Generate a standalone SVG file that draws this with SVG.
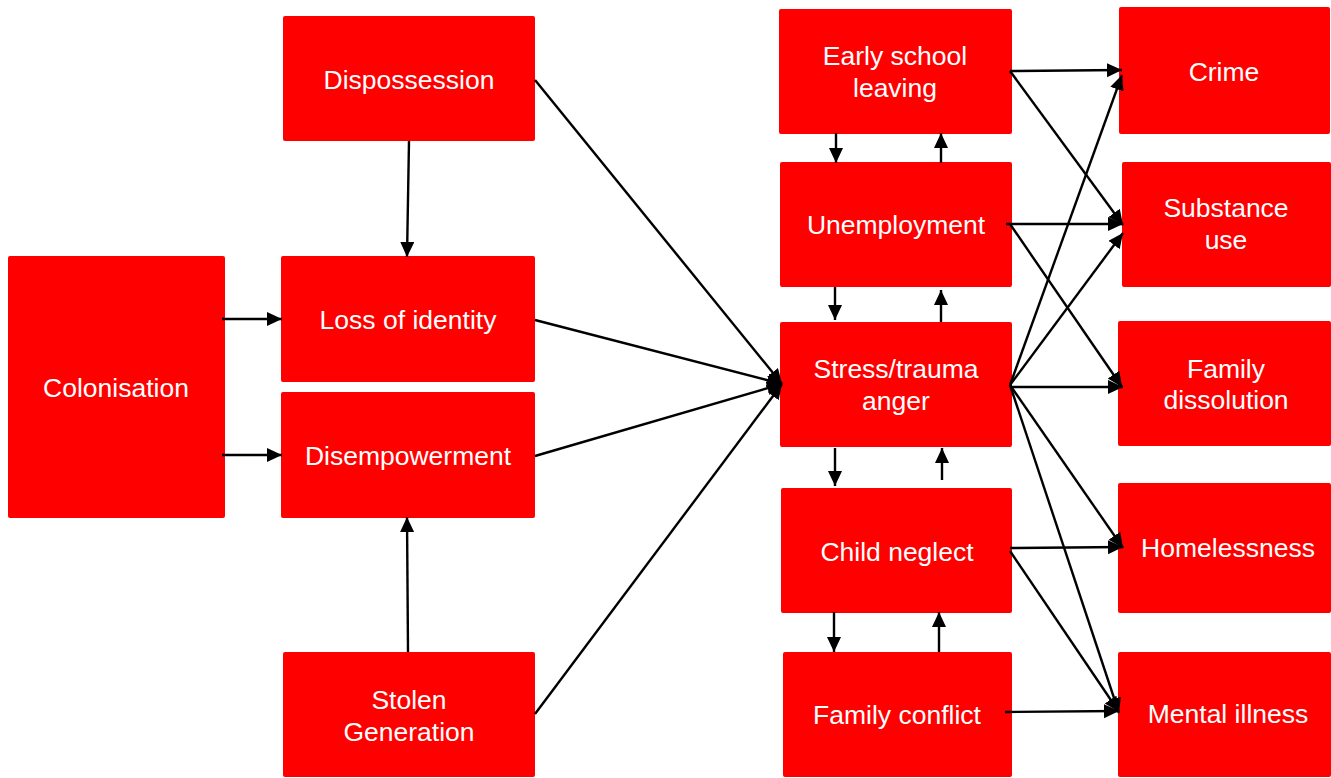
<svg xmlns="http://www.w3.org/2000/svg" width="1331" height="778" viewBox="0 0 1331 778">
<style>
.box{fill:#ff0000}
.lbl{fill:#ffffff;font-family:"Liberation Sans",Arial,sans-serif;font-size:26.5px;text-anchor:middle}
.edge{stroke:#000;stroke-width:2.4;fill:none;marker-end:url(#ah)}
</style>
<defs>
<marker id="ah" markerUnits="userSpaceOnUse" markerWidth="16" markerHeight="15" refX="15" refY="7" orient="auto">
<path d="M0,0 L15,7 L0,14 z" fill="#000"/>
</marker>
</defs>
<rect width="1331" height="778" fill="#fff"/>
<g id="colonisation"><rect class="box" x="8" y="256" width="217" height="262" rx="2"/><text class="lbl" x="116" y="397">Colonisation</text></g>
<g id="dispossession"><rect class="box" x="283" y="16" width="252" height="125" rx="2"/><text class="lbl" x="409" y="89">Dispossession</text></g>
<g id="loss-of-identity"><rect class="box" x="281" y="256" width="254" height="126" rx="2"/><text class="lbl" x="408" y="329">Loss of identity</text></g>
<g id="disempowerment"><rect class="box" x="281" y="392" width="254" height="126" rx="2"/><text class="lbl" x="408" y="465">Disempowerment</text></g>
<g id="stolen-generation"><rect class="box" x="283" y="652" width="252" height="125" rx="2"/><text class="lbl" x="409" y="709">Stolen</text><text class="lbl" x="409" y="741">Generation</text></g>
<g id="early-school-leaving"><rect class="box" x="779" y="9" width="233" height="125" rx="2"/><text class="lbl" x="895" y="65">Early school</text><text class="lbl" x="895" y="97">leaving</text></g>
<g id="unemployment"><rect class="box" x="780" y="162" width="232" height="125" rx="2"/><text class="lbl" x="896" y="234">Unemployment</text></g>
<g id="stress"><rect class="box" x="780" y="322" width="232" height="125" rx="2"/><text class="lbl" x="896" y="378">Stress/trauma</text><text class="lbl" x="896" y="410">anger</text></g>
<g id="child-neglect"><rect class="box" x="781" y="488" width="231" height="125" rx="2"/><text class="lbl" x="897" y="561">Child neglect</text></g>
<g id="family-conflict"><rect class="box" x="783" y="652" width="229" height="125" rx="2"/><text class="lbl" x="897" y="724">Family conflict</text></g>
<g id="crime"><rect class="box" x="1119" y="7" width="211" height="127" rx="2"/><text class="lbl" x="1224" y="81">Crime</text></g>
<g id="substance-use"><rect class="box" x="1122" y="162" width="209" height="125" rx="2"/><text class="lbl" x="1226" y="217">Substance</text><text class="lbl" x="1226" y="249">use</text></g>
<g id="family-dissolution"><rect class="box" x="1118" y="321" width="213" height="125" rx="2"/><text class="lbl" x="1226" y="378">Family</text><text class="lbl" x="1226" y="409">dissolution</text></g>
<g id="homelessness"><rect class="box" x="1118" y="483" width="213" height="130" rx="2"/><text class="lbl" x="1228" y="557">Homelessness</text></g>
<g id="mental-illness"><rect class="box" x="1118" y="652" width="213" height="125" rx="2"/><text class="lbl" x="1228" y="723">Mental illness</text></g>
<g id="connectors">
<line class="edge" x1="222" y1="319" x2="282" y2="319"/>
<line class="edge" x1="222" y1="455" x2="282" y2="455"/>
<line class="edge" x1="409" y1="141" x2="407" y2="257"/>
<line class="edge" x1="408" y1="652" x2="407" y2="517"/>
<line class="edge" x1="535" y1="80" x2="782" y2="384"/>
<line class="edge" x1="535" y1="320" x2="782" y2="384"/>
<line class="edge" x1="535" y1="456" x2="782" y2="384"/>
<line class="edge" x1="535" y1="714" x2="782" y2="384"/>
<line class="edge" x1="836" y1="133" x2="836" y2="163"/>
<line class="edge" x1="941" y1="163" x2="941" y2="133"/>
<line class="edge" x1="835" y1="287" x2="835" y2="320"/>
<line class="edge" x1="941" y1="322" x2="941" y2="290"/>
<line class="edge" x1="835" y1="448" x2="835" y2="486"/>
<line class="edge" x1="942" y1="480" x2="942" y2="448"/>
<line class="edge" x1="834" y1="612" x2="834" y2="652"/>
<line class="edge" x1="939" y1="652" x2="939" y2="612"/>
<line class="edge" x1="1010" y1="71" x2="1122" y2="70"/>
<line class="edge" x1="1010" y1="71" x2="1123" y2="225"/>
<line class="edge" x1="1006" y1="224" x2="1123" y2="224"/>
<line class="edge" x1="1010" y1="224" x2="1122" y2="387"/>
<line class="edge" x1="1010" y1="385" x2="1122" y2="75"/>
<line class="edge" x1="1010" y1="385" x2="1123" y2="233"/>
<line class="edge" x1="1010" y1="387" x2="1123" y2="387"/>
<line class="edge" x1="1010" y1="385" x2="1123" y2="548"/>
<line class="edge" x1="1010" y1="385" x2="1119" y2="713"/>
<line class="edge" x1="1010" y1="548" x2="1123" y2="547"/>
<line class="edge" x1="1010" y1="551" x2="1119" y2="712"/>
<line class="edge" x1="1005" y1="712" x2="1119" y2="711"/>
</g>
</svg>
